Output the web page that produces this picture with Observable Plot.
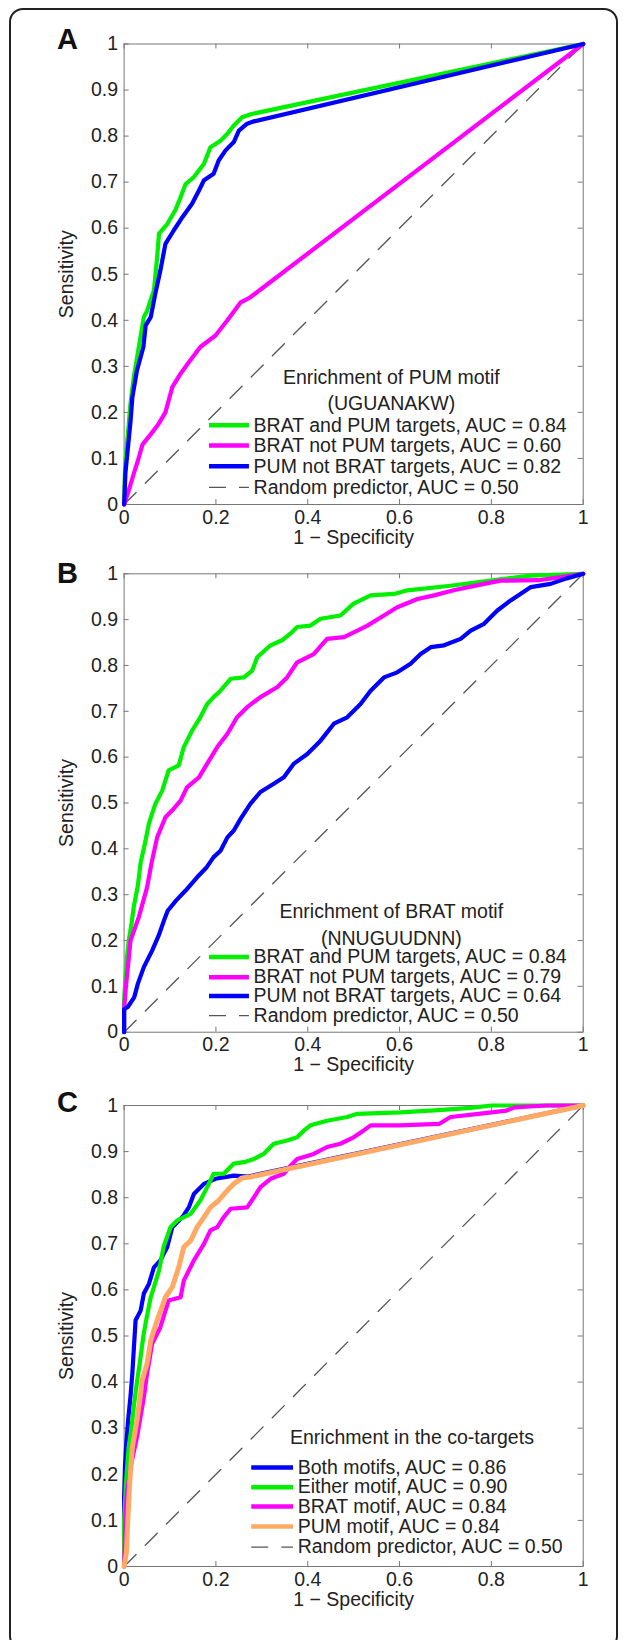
<!DOCTYPE html>
<html><head><meta charset="utf-8">
<script src="https://cdn.jsdelivr.net/npm/d3@7"></script>
<script src="https://cdn.jsdelivr.net/npm/@observablehq/plot@0.6"></script>
<style>
body{margin:0;background:#fff;}
#page{position:relative;width:625px;height:1640px;overflow:hidden;font-family:"Liberation Sans",Arial,sans-serif;}
#frame{position:absolute;left:9px;top:8px;width:609px;height:1642px;border:2px solid #222;border-radius:14px;box-sizing:border-box;}
.panel{position:absolute;left:0;}
.letter{position:absolute;left:57px;font:bold 29px/1 "Liberation Sans",Arial,sans-serif;color:#111;}
</style></head><body><div id="page"><div id="frame"></div></div>
<script>
// ---------- data ----------
const xTicks = [0, 0.2, 0.4, 0.6, 0.8, 1];
const yTicks = [0, 0.1, 0.2, 0.3, 0.4, 0.5, 0.6, 0.7, 0.8, 0.9, 1];
const randomPredictor = [[0, 0], [1, 1]];

// Panel A: Enrichment of PUM motif (UGUANAKW)
const A_titles = ["Enrichment of PUM motif", "(UGUANAKW)"];
const A_labels = ["BRAT and PUM targets, AUC = 0.84", "BRAT not PUM targets, AUC = 0.60", "PUM not BRAT targets, AUC = 0.82", "Random predictor, AUC = 0.50"];
const A_bratAndPum = [[0,0],[0.002,0.08],[0.008,0.15],[0.014,0.22],[0.021,0.276],[0.03,0.33],[0.043,0.407],[0.05,0.42],[0.058,0.445],[0.065,0.465],[0.072,0.537],[0.076,0.588],[0.094,0.609],[0.112,0.64],[0.123,0.667],[0.134,0.696],[0.152,0.711],[0.174,0.740],[0.188,0.776],[0.210,0.790],[0.225,0.805],[0.239,0.823],[0.257,0.841],[0.278,0.848],[1,1]];
const A_bratNotPum = [[0,0],[0.01,0.03],[0.022,0.07],[0.03,0.095],[0.04,0.13],[0.06,0.155],[0.075,0.175],[0.09,0.2],[0.097,0.226],[0.105,0.255],[0.123,0.284],[0.141,0.309],[0.166,0.342],[0.199,0.367],[0.225,0.4],[0.254,0.439],[0.275,0.45],[1,1]];
const A_pumNotBrat = [[0,0],[0.003,0.07],[0.008,0.12],[0.014,0.18],[0.018,0.233],[0.028,0.291],[0.042,0.342],[0.047,0.389],[0.058,0.407],[0.068,0.458],[0.079,0.508],[0.090,0.566],[0.108,0.595],[0.127,0.624],[0.148,0.653],[0.163,0.682],[0.174,0.704],[0.195,0.718],[0.206,0.747],[0.221,0.769],[0.239,0.787],[0.250,0.812],[0.268,0.827],[0.283,0.832],[1,1]];

// Panel B: Enrichment of BRAT motif (NNUGUUDNN)
const B_titles = ["Enrichment of BRAT motif", "(NNUGUUDNN)"];
const B_labels = ["BRAT and PUM targets, AUC = 0.84", "BRAT not PUM targets, AUC = 0.79", "PUM not BRAT targets, AUC = 0.64", "Random predictor, AUC = 0.50"];
const B_bratAndPum = [[0,0],[0,0.07],[0.003,0.12],[0.006,0.16],[0.01,0.2],[0.016,0.235],[0.021,0.273],[0.03,0.32],[0.036,0.37],[0.045,0.41],[0.054,0.455],[0.068,0.498],[0.083,0.527],[0.097,0.571],[0.119,0.582],[0.130,0.622],[0.148,0.658],[0.166,0.687],[0.181,0.716],[0.195,0.731],[0.210,0.745],[0.232,0.771],[0.261,0.774],[0.279,0.789],[0.290,0.818],[0.319,0.844],[0.344,0.855],[0.366,0.873],[0.377,0.884],[0.406,0.887],[0.428,0.902],[0.471,0.909],[0.500,0.935],[0.537,0.953],[0.588,0.956],[0.617,0.964],[0.711,0.974],[0.798,0.985],[0.886,0.996],[1,1]];
const B_bratNotPum = [[0,0],[0,0.05],[0.004,0.1],[0.009,0.15],[0.014,0.2],[0.032,0.251],[0.05,0.316],[0.06,0.37],[0.072,0.425],[0.090,0.469],[0.105,0.484],[0.123,0.505],[0.137,0.534],[0.163,0.556],[0.181,0.586],[0.203,0.622],[0.225,0.651],[0.246,0.687],[0.268,0.709],[0.297,0.731],[0.334,0.753],[0.355,0.774],[0.377,0.807],[0.413,0.825],[0.442,0.858],[0.479,0.862],[0.508,0.876],[0.530,0.887],[0.566,0.909],[0.595,0.927],[0.639,0.945],[0.675,0.953],[0.718,0.964],[0.784,0.978],[0.820,0.985],[0.903,0.986],[1,1]];
const B_pumNotBrat = [[0,0],[0,0.05],[0.008,0.055],[0.022,0.076],[0.030,0.106],[0.043,0.142],[0.061,0.178],[0.075,0.21],[0.087,0.244],[0.095,0.265],[0.113,0.287],[0.134,0.309],[0.159,0.338],[0.18,0.36],[0.195,0.382],[0.21,0.396],[0.225,0.425],[0.239,0.440],[0.254,0.466],[0.275,0.498],[0.297,0.524],[0.326,0.542],[0.348,0.556],[0.370,0.586],[0.399,0.607],[0.428,0.636],[0.457,0.673],[0.486,0.687],[0.515,0.716],[0.537,0.745],[0.566,0.774],[0.595,0.785],[0.624,0.804],[0.646,0.825],[0.668,0.840],[0.697,0.844],[0.733,0.858],[0.755,0.876],[0.784,0.891],[0.813,0.920],[0.842,0.942],[0.886,0.971],[0.929,0.978],[0.964,0.990],[1,1]];

// Panel C: Enrichment in the co-targets
const C_titles = ["Enrichment in the co-targets"];
const C_labels = ["Both motifs, AUC = 0.86", "Either motif, AUC = 0.90", "BRAT motif, AUC = 0.84", "PUM motif, AUC = 0.84", "Random predictor, AUC = 0.50"];
const C_both = [[0,0],[0,0.15],[0.002,0.22],[0.005,0.27],[0.009,0.32],[0.014,0.37],[0.018,0.42],[0.021,0.469],[0.025,0.534],[0.036,0.555],[0.043,0.592],[0.054,0.613],[0.065,0.649],[0.079,0.664],[0.094,0.693],[0.105,0.736],[0.127,0.758],[0.141,0.779],[0.152,0.808],[0.174,0.830],[0.199,0.841],[0.239,0.848],[0.27,0.846],[1,1]];
const C_either = [[0,0],[0,0.1],[0.004,0.18],[0.01,0.26],[0.016,0.3],[0.021,0.346],[0.028,0.40],[0.034,0.44],[0.042,0.5],[0.048,0.534],[0.058,0.584],[0.076,0.642],[0.086,0.693],[0.101,0.736],[0.116,0.751],[0.145,0.765],[0.166,0.794],[0.181,0.823],[0.195,0.852],[0.217,0.852],[0.239,0.874],[0.261,0.877],[0.283,0.884],[0.304,0.895],[0.326,0.917],[0.355,0.924],[0.377,0.931],[0.392,0.946],[0.406,0.957],[0.442,0.967],[0.486,0.975],[0.508,0.982],[0.602,0.985],[0.685,0.99],[0.755,0.995],[0.80,1],[1,1]];
const C_brat = [[0,0],[0.003,0.1],[0.006,0.16],[0.015,0.22],[0.028,0.28],[0.043,0.367],[0.05,0.418],[0.061,0.483],[0.079,0.519],[0.097,0.577],[0.123,0.584],[0.130,0.620],[0.152,0.664],[0.174,0.700],[0.188,0.729],[0.203,0.736],[0.217,0.758],[0.232,0.776],[0.268,0.779],[0.283,0.801],[0.297,0.823],[0.319,0.841],[0.348,0.852],[0.363,0.870],[0.377,0.884],[0.413,0.895],[0.442,0.910],[0.471,0.917],[0.500,0.931],[0.522,0.946],[0.537,0.957],[0.599,0.957],[0.686,0.960],[0.711,0.975],[0.772,0.982],[0.833,0.989],[0.851,0.996],[0.92,1],[1,1]];
const C_pum = [[0,0],[0.005,0.03],[0.008,0.1],[0.012,0.18],[0.018,0.259],[0.028,0.317],[0.036,0.375],[0.039,0.403],[0.05,0.44],[0.058,0.49],[0.072,0.534],[0.090,0.584],[0.105,0.606],[0.119,0.649],[0.130,0.693],[0.145,0.707],[0.159,0.736],[0.174,0.758],[0.188,0.779],[0.206,0.794],[0.225,0.816],[0.239,0.830],[0.257,0.843],[0.275,0.845],[1,1]];

// ---------- styling ----------
const GREEN = "#00f000", MAGENTA = "#ff00ff", BLUE = "#0000ff", ORANGE = "#ffa964";
const AXIS = "#777", TEXT = "#222", DASH = "#555";
const FONT = "19.5px";
const fmt = d3.format("~g");

const panels = [
  {letter: "A", top: 0, height: 555, marginTop: 43.5, marginBottom: 51, letterTop: 25,
   series: [[A_bratAndPum, GREEN, 4.2], [A_bratNotPum, MAGENTA, 4.2], [A_pumNotBrat, BLUE, 4.2]],
   titles: A_titles, labels: A_labels,
   lg: {titleX: 0.582, titleY: [0.276, 0.219], s0: 0.186, s1: 0.273, tx: 0.282, rows: [0.172, 0.128, 0.083, 0.037]}},
  {letter: "B", top: 555, height: 530, marginTop: 18.3, marginBottom: 53.3, letterTop: 559,
   series: [[B_bratAndPum, GREEN, 4.2], [B_bratNotPum, MAGENTA, 4.2], [B_pumNotBrat, BLUE, 4.2]],
   titles: B_titles, labels: B_labels,
   lg: {titleX: 0.582, titleY: [0.262, 0.204], s0: 0.186, s1: 0.273, tx: 0.282, rows: [0.164, 0.120, 0.079, 0.036]}},
  {letter: "C", top: 1085, height: 555, marginTop: 20, marginBottom: 74, letterTop: 1088,
   series: [[C_both, BLUE, 4.2], [C_either, GREEN, 4.2], [C_brat, MAGENTA, 4.2], [C_pum, ORANGE, 5]],
   titles: C_titles, labels: C_labels,
   lg: {titleX: 0.627, titleY: [0.280], s0: 0.278, s1: 0.369, tx: 0.378, rows: [0.215, 0.172, 0.130, 0.087, 0.042]}}
];

const page = document.getElementById("page");
const W = 625, ML = 123.6, MR = 42.3;
const innerW = W - ML - MR;

for (const p of panels) {
  const innerH = p.height - p.marginTop - p.marginBottom;
  const T = 5;
  const colors = p.series.map(s => s[1]);
  const rows = p.labels.map((label, i) => ({label, y: p.lg.rows[i], color: i < colors.length ? colors[i] : null}));
  const marks = [
    Plot.frame({stroke: AXIS, strokeWidth: 1}),
    // inward ticks on four sides
    Plot.ruleX(xTicks, {stroke: AXIS, insetTop: innerH - T}),
    Plot.ruleX(xTicks, {stroke: AXIS, insetBottom: innerH - T}),
    Plot.ruleY(yTicks, {stroke: AXIS, insetRight: innerW - T}),
    Plot.ruleY(yTicks, {stroke: AXIS, insetLeft: innerW - T}),
    // tick labels
    Plot.text(xTicks, {x: d => d, text: d => fmt(d), frameAnchor: "bottom", lineAnchor: "middle", textAnchor: "middle", dy: 13, fontSize: FONT}),
    Plot.text(yTicks, {y: d => d, text: d => fmt(d), frameAnchor: "left", lineAnchor: "middle", textAnchor: "end", dx: -6, fontSize: FONT}),
    // axis titles
    Plot.text(["1 \u2212 Specificity"], {frameAnchor: "bottom", lineAnchor: "middle", textAnchor: "middle", dy: 33, fontSize: FONT}),
    Plot.text(["Sensitivity"], {frameAnchor: "left", lineAnchor: "middle", textAnchor: "middle", dx: -57, rotate: -90, fontSize: FONT}),
    Plot.line(randomPredictor, {x: d => d[0], y: d => d[1], stroke: DASH, strokeWidth: 1.3, strokeDasharray: "17,13"}),
    ...p.series.map(([data, color, w]) => Plot.line(data, {x: d => d[0], y: d => d[1], stroke: color, strokeWidth: w, strokeLinejoin: "round", strokeLinecap: "round"})),
    // legend
    Plot.text(p.titles.map((t, i) => ({t, y: p.lg.titleY[i]})), {x: p.lg.titleX, y: "y", text: "t", textAnchor: "middle", lineAnchor: "middle", fontSize: FONT}),
    Plot.ruleY(rows.filter(r => r.color), {y: "y", x1: p.lg.s0, x2: p.lg.s1, stroke: "color", strokeWidth: 4.5}),
    Plot.ruleY(rows.filter(r => !r.color), {y: "y", x1: p.lg.s0, x2: p.lg.s1, stroke: DASH, strokeWidth: 1.3, strokeDasharray: "17,13"}),
    Plot.text(rows, {x: p.lg.tx, y: "y", text: "label", textAnchor: "start", lineAnchor: "middle", fontSize: FONT})
  ];
  const svg = Plot.plot({
    width: W, height: p.height,
    marginLeft: ML, marginRight: MR, marginTop: p.marginTop, marginBottom: p.marginBottom,
    x: {domain: [0, 1], axis: null},
    y: {domain: [0, 1], axis: null},
    style: {fontFamily: "'Liberation Sans', Arial, sans-serif", fontSize: FONT, color: TEXT, background: "transparent", overflow: "visible"},
    marks
  });
  svg.classList.add("panel");
  svg.style.top = p.top + "px";
  svg.style.position = "absolute";
  page.appendChild(svg);
  const L = document.createElement("div");
  L.className = "letter";
  L.textContent = p.letter;
  L.style.top = p.letterTop + "px";
  page.appendChild(L);
}
</script>
</body></html>
